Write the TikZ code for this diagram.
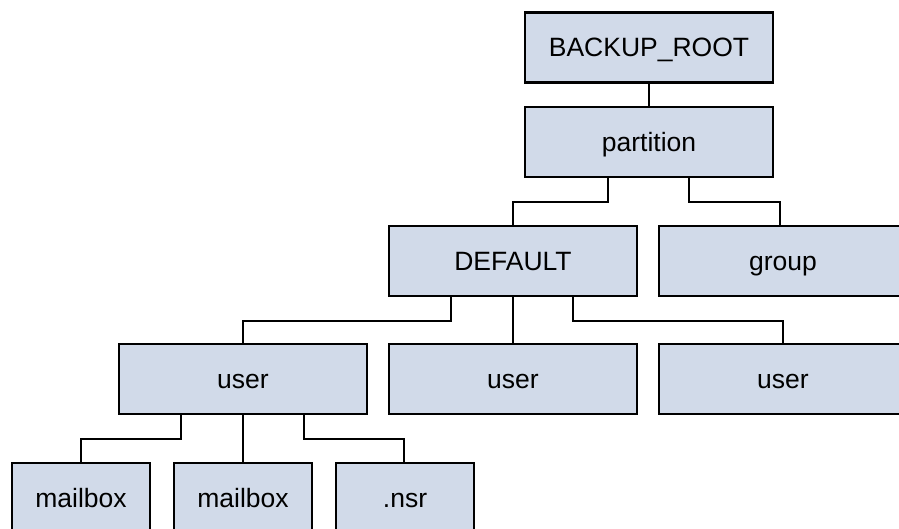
\documentclass[tikz,border=0pt]{standalone}
\usepackage{fontspec}
\setmainfont{Liberation Sans}
\definecolor{boxfill}{RGB}{209,218,233}
\tikzset{
  dirbox/.style={draw=black, fill=boxfill, line width=2.3pt, inner sep=0pt,
    minimum height=70pt, text height=19pt, text depth=0pt,
    font=\fontsize{26.5pt}{30pt}\selectfont},
  wide/.style={dirbox, minimum width=248pt},
  narrow/.style={dirbox, minimum width=138pt},
  link/.style={draw=black, line width=2.3pt}
}
\begin{document}
\begin{tikzpicture}[x=1pt, y=-1pt]
  \useasboundingbox (0,0) rectangle (899,529);
  \clip (0,0) rectangle (899,529);
  % directory boxes
  \node[wide] (root) at (649,47.5) {BACKUP\_ROOT};
  \node[wide] (part) at (649,142) {partition};
  \node[wide] (def)  at (513,261) {DEFAULT};
  \node[wide] (grp)  at (783,261) {group};
  \node[wide] (u1)   at (243,379) {user};
  \node[wide] (u2)   at (513,379) {user};
  \node[wide] (u3)   at (783,379) {user};
  \node[narrow] (mb1) at (81,498) {mailbox};
  \node[narrow] (mb2) at (243,498) {mailbox};
  \node[narrow] (nsr) at (405,498) {.nsr};
  % connectors
  \draw[link] (root.south) -- (part.north);
  \draw[link] ([xshift=-41pt]part.south) -- ++(0,24) -| (def.north);
  \draw[link] ([xshift=40pt]part.south) -- ++(0,24) -| ([xshift=-3pt]grp.north);
  \draw[link] ([xshift=-62pt]def.south) -- ++(0,24) -| (u1.north);
  \draw[link] (def.south) -- (u2.north);
  \draw[link] ([xshift=60pt]def.south) -- ++(0,24) -| (u3.north);
  \draw[link] ([xshift=-62pt]u1.south) -- ++(0,24) -| (mb1.north);
  \draw[link] (u1.south) -- (mb2.north);
  \draw[link] ([xshift=61pt]u1.south) -- ++(0,24) -| ([xshift=-1pt]nsr.north);
\end{tikzpicture}
\end{document}
